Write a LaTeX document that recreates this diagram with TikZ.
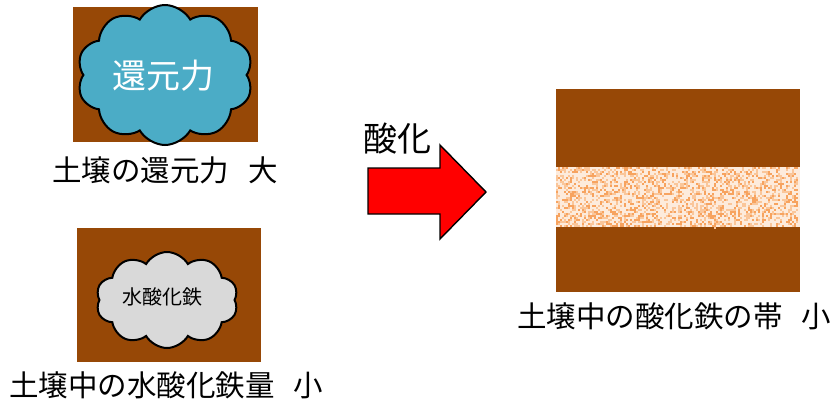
\documentclass[tikz,border=0pt]{standalone}
\usepackage{fontspec}
\setmainfont{Noto Sans CJK JP}
\usetikzlibrary{shapes.symbols}
\definecolor{soil}{HTML}{974806}
\definecolor{skyblue}{HTML}{4BACC6}
\definecolor{lightgrey}{HTML}{D9D9D9}
\definecolor{dotA}{HTML}{F7A35F}
\definecolor{dotB}{HTML}{FAC69A}
\definecolor{bandbg}{HTML}{FDEBDC}
\tikzset{
  soilbox/.style={fill=soil, draw=none},
  puff/.style={cloud, cloud puffs=10, cloud puff arc=120, draw=black, line width=2pt, inner sep=0pt},
  caption/.style={font=\fontsize{29.5}{32}\selectfont, text=black, inner sep=0pt, anchor=base west},
  bigarrow/.style={fill=red, draw=black, line width=1.4pt, line join=miter}
}
\begin{document}
\begin{tikzpicture}[x=1pt, y=-1pt]
\useasboundingbox (0,0) rectangle (836,405);

% upper-left: soil with strong reducing power
\fill[soilbox] (73,7) rectangle (258,142);
\node[puff, fill=skyblue, minimum width=176pt, minimum height=140pt] (reduce) at (165,75) {};
\node[font=\fontsize{34}{36}\selectfont, text=white] (reducetxt) at (163,76) {還元力};
\node[caption] (cap1) at (52,181) {土壌の還元力\hspace{19pt}大};

% lower-left: soil with little iron hydroxide
\fill[soilbox] (77,228) rectangle (261,362);
\node[puff, fill=lightgrey, minimum width=142pt, minimum height=96pt] (hydrox) at (167,300) {};
\node[font=\fontsize{20}{22}\selectfont, text=black] (hydroxtxt) at (162,297) {水酸化鉄};
\node[caption] (cap2) at (9,396) {土壌中の水酸化鉄量\hspace{19pt}小};

% oxidation arrow
\coordinate (a1) at (368,168);
\coordinate (a2) at (440,168);
\coordinate (a3) at (440,145);
\coordinate (a4) at (486,192);
\coordinate (a5) at (440,239);
\coordinate (a6) at (440,214);
\coordinate (a7) at (368,214);
\draw[bigarrow] (a1) -- (a2) -- (a3) -- (a4) -- (a5) -- (a6) -- (a7) -- cycle;
\node[font=\fontsize{34}{36}\selectfont, text=black, inner sep=0pt] (oxid) at (397,139) {酸化};

% right: soil profile with a thin iron oxide band
\fill[soilbox] (556,89) rectangle (800,292);
\fill[bandbg] (556,167) rectangle (800,227);
\pgfmathsetseed{42}
\foreach \i in {1,...,2200}{
  \pgfmathsetmacro{\px}{556+int(rnd*121)*2}
  \pgfmathsetmacro{\py}{167+int(rnd*30)*2}
  \pgfmathsetmacro{\pc}{rnd}
  \ifdim\pc pt<0.45pt
    \fill[dotA] (\px,\py) rectangle ++(2,2);
  \else
    \fill[dotB] (\px,\py) rectangle ++(2,2);
  \fi
}
\node[caption] (cap3) at (517,327) {土壌中の酸化鉄の帯\hspace{19pt}小};
\end{tikzpicture}
\end{document}
